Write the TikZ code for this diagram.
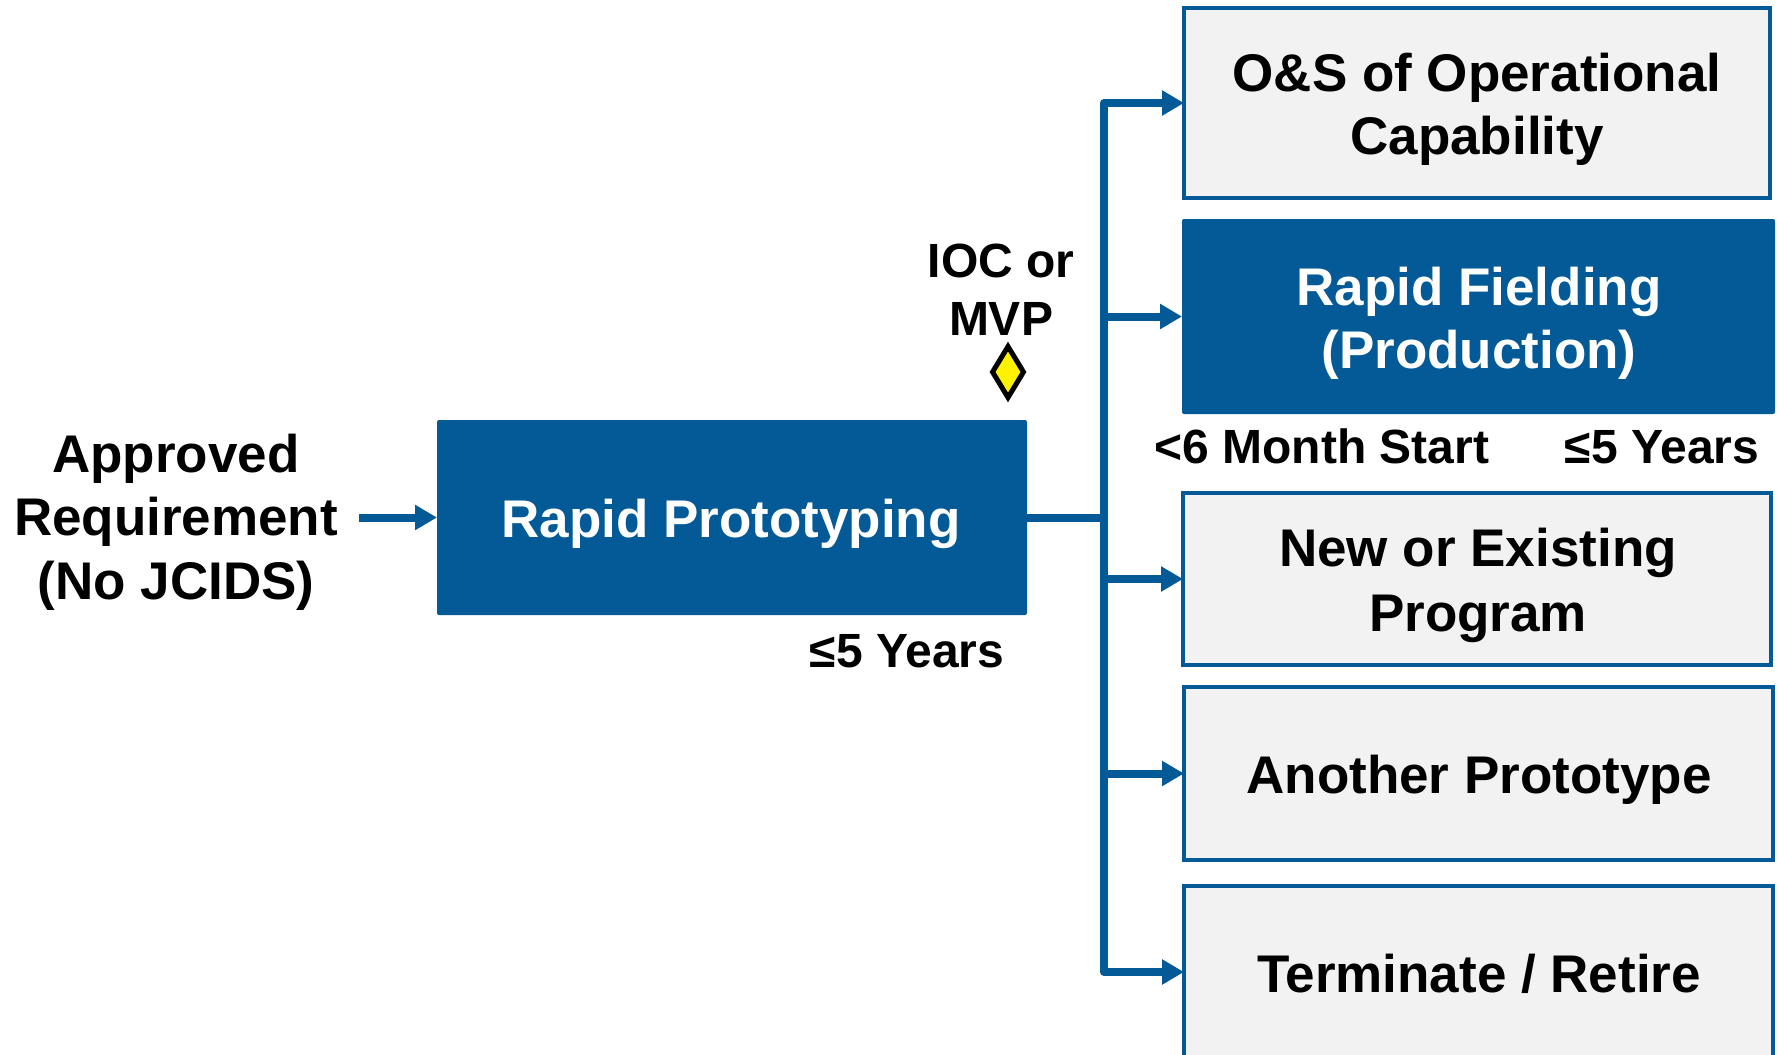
\documentclass[tikz,border=0pt]{standalone}
\usepackage{fontspec}
\setmainfont{Liberation Sans}
\usetikzlibrary{arrows.meta,shapes.geometric}
\definecolor{dodblue}{RGB}{3,90,150}
\definecolor{boxgrey}{RGB}{242,242,242}
\begin{document}
\begin{tikzpicture}[x=0.5pt,y=-0.5pt,
  big/.style={font=\fontsize{26.5}{32}\selectfont\bfseries, inner sep=0pt, anchor=base},
  small/.style={font=\fontsize{24}{29}\selectfont\bfseries, inner sep=0pt, anchor=base},
  greybox/.style={draw=dodblue, line width=2pt, fill=boxgrey, inner sep=0pt, outer sep=0pt},
  bluebox/.style={fill=dodblue, inner sep=0pt, outer sep=0pt, rounded corners=1pt},
  conn/.style={draw=dodblue, line width=4pt, line join=round},
  arr/.style={-{Triangle[length=11pt,width=12pt]}}
]
\useasboundingbox (0,0) rectangle (1778,1055);
\clip (0,0) rectangle (1778,1055);

% boxes
\node[bluebox, minimum width=295pt, minimum height=97.5pt] (rp) at (732,517.5) {};
\node[greybox, minimum width=293pt, minimum height=95pt] (b1) at (1477,103) {};
\node[bluebox, minimum width=296.5pt, minimum height=97.5pt] (b2) at (1478.5,316.5) {};
\node[greybox, minimum width=294pt, minimum height=86pt] (b3) at (1477,579) {};
\node[greybox, minimum width=294.5pt, minimum height=86.5pt] (b4) at (1478.5,773.5) {};
\node[greybox, minimum width=294.5pt, minimum height=86pt] (b5) at (1478.5,972) {};

% milestone diamond
\node[shape=diamond, draw=black, line width=2.5pt, fill=yellow, minimum width=16.5pt, minimum height=26.5pt, inner sep=0pt] (ms) at (1008,372) {};

% texts
\node[big] (req1) at (176,472) {Approved};
\node[big] (req2) at (176,535) {Requirement};
\node[big] (req3) at (176,599) {(No JCIDS)};
\node[big, text=white] (rpt) at (731,537) {Rapid Prototyping};
\node[small] (yrs1) at (907,667) {≤5 Years};
\node[small] (ioc1) at (1001,277) {IOC or};
\node[small] (ioc2) at (1001,335) {MVP};
\node[big] (t1a) at (1477,91) {O\&S of Operational};
\node[big] (t1b) at (1477,154) {Capability};
\node[big, text=white] (t2a) at (1479,305) {Rapid Fielding};
\node[big, text=white] (t2b) at (1479,368) {(Production)};
\node[small] (mon) at (1322,463) {<6 Month Start};
\node[small] (yrs2) at (1662,463) {≤5 Years};
\node[big] (t3a) at (1478,566.5) {New or Existing};
\node[big] (t3b) at (1478,631) {Program};
\node[big] (t4) at (1479,793) {Another Prototype};
\node[big] (t5) at (1479,992) {Terminate / Retire};

% connectors
\coordinate (in) at (359,517.5);
\coordinate (bus) at (1104,517.5);
\draw[conn,arr] (in) -- (rp.west);
\draw[conn] (rp.east) -- (bus);
\draw[conn,arr] (bus) |- (b1.west);
\draw[conn,arr] (bus) |- (b5.west);
\draw[conn,arr] (bus |- b2.west) -- (b2.west);
\draw[conn,arr] (bus |- b3.west) -- (b3.west);
\draw[conn,arr] (bus |- b4.west) -- (b4.west);
\end{tikzpicture}
\end{document}
